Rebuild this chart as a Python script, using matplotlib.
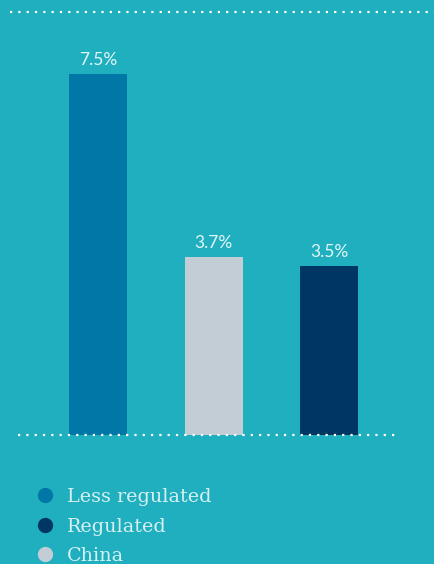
import matplotlib
matplotlib.use("Agg")
import matplotlib.pyplot as plt
from matplotlib.lines import Line2D

# Data
categories = ["Less regulated", "China", "Regulated"]
values = [7.5, 3.7, 3.5]
value_labels = ["7.5%", "3.7%", "3.5%"]
legend_order = ["Less regulated", "Regulated", "China"]

colors = {
    "Less regulated": "#0077A7",
    "China": "#C2CDD6",
    "Regulated": "#003662",
}
bg = "#1FAFBE"
text_col = "#E3F6F7"
legend_text_col = "#D6F0F3"

W, H = 434, 564
fig = plt.figure(figsize=(W / 100, H / 100), dpi=100, facecolor=bg)

# Plot area: from the top dotted rule down to the baseline
ax_bottom_px, ax_top_px = 435, 12
ax = fig.add_axes([0, 1 - ax_bottom_px / H, 1, (ax_bottom_px - ax_top_px) / H])
ax.set_facecolor(bg)
for s in ax.spines.values():
    s.set_visible(False)
ax.set_xticks([])
ax.set_yticks([])

px_per_unit = 48.15
ax.set_ylim(0, (ax_bottom_px - ax_top_px) / px_per_unit)
step = 115.5
x0 = 98
ax.set_xlim(-x0 / step, (W - x0) / step)

xs = list(range(len(categories)))
ax.bar(xs, values, width=58 / step, color=[colors[c] for c in categories],
       zorder=2)

for x, v, lab in zip(xs, values, value_labels):
    ax.annotate(lab, (x, v), xytext=(0, 4.5), textcoords="offset points",
                ha="center", va="bottom", color=text_col, fontsize=12.5,
                family="Lato", fontweight="normal")

dot_style = (0, (1, 2.74))
# baseline rule
ax.hlines(0, (18 - x0) / step, (398 - x0) / step, colors="white",
          linewidth=1.6, linestyles=[dot_style], zorder=3, clip_on=False)
# top rule
ax.hlines(ax.get_ylim()[1], (10 - x0) / step, (W - x0) / step, colors="white",
          linewidth=1.6, linestyles=[dot_style], zorder=3, clip_on=False)

# Legend
leg_x_marker = 44.5 / W
leg_x_text = 67 / W
leg_rows = [495, 525, 554]
for name, y in zip(legend_order, leg_rows):
    fy = 1 - y / H
    fig.add_artist(Line2D([leg_x_marker], [fy], marker="o", markersize=11,
                          markerfacecolor=colors[name], markeredgewidth=0,
                          linestyle="none", transform=fig.transFigure))
    fig.text(leg_x_text, fy, name, ha="left", va="center_baseline",
             color=legend_text_col, fontsize=13.8, family="DejaVu Serif")

fig.savefig("out.png", dpi=100, facecolor=bg)
